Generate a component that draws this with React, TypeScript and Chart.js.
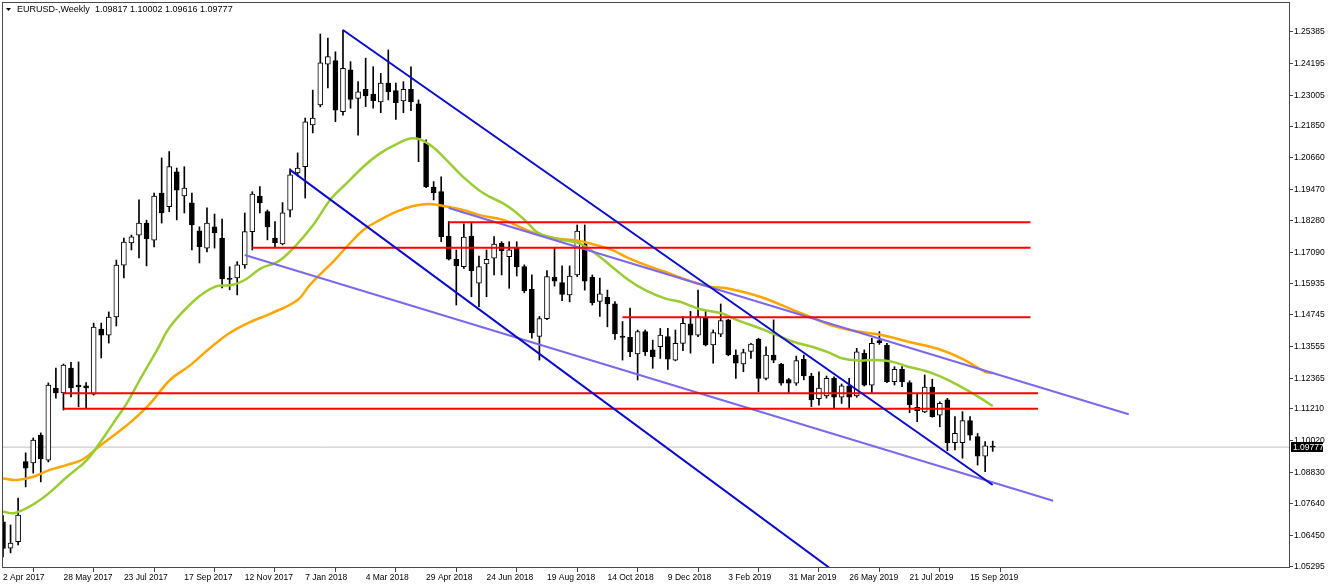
import React, { useEffect, useRef } from 'react';
import { Chart, registerables } from 'chart.js';

Chart.register(...registerables);

// ---- OHLC weekly bars, index 0 = week of 2 Apr 2017 ----
const opens = [
  1.0697, 1.0598, 1.0622, 1.0923, 1.0918, 1.1023, 1.0929, 1.1200, 1.1181, 1.1275,
  1.1211, 1.1208, 1.1177, 1.1421, 1.1399, 1.1467, 1.1662, 1.1745, 1.1775, 1.1820,
  1.1756, 1.1933, 1.1882, 1.2013, 1.1922, 1.1896, 1.1791, 1.1726, 1.1806, 1.1764,
  1.1612, 1.1614, 1.1663, 1.1788, 1.1922, 1.1863, 1.1764, 1.1742, 1.1869, 1.2009,
  1.2032, 1.2189, 1.2264, 1.2418, 1.2431, 1.2239, 1.2396, 1.2289, 1.2323, 1.2305,
  1.2276, 1.2346, 1.2318, 1.2279, 1.2323, 1.2268, 1.2120, 1.1955, 1.1938, 1.1771,
  1.1684, 1.1656, 1.1771, 1.1594, 1.1666, 1.1688, 1.1744, 1.1694, 1.1725, 1.1656,
  1.1571, 1.1394, 1.1461, 1.1616, 1.1596, 1.1550, 1.1625, 1.1741, 1.1616, 1.1525,
  1.1541, 1.1516, 1.1395, 1.1390, 1.1328, 1.1412, 1.1343, 1.1355, 1.1393, 1.1305,
  1.1368, 1.1441, 1.1399, 1.1462, 1.1362, 1.1402, 1.1456, 1.1324, 1.1290, 1.1337,
  1.1383, 1.1236, 1.1324, 1.1290, 1.1232, 1.1218, 1.1308, 1.1245, 1.1160, 1.1170,
  1.1236, 1.1165, 1.1208, 1.1170, 1.1330, 1.1211, 1.1378, 1.1361, 1.1224, 1.1270,
  1.1220, 1.1127, 1.1110, 1.1203, 1.1098, 1.1155, 1.0994, 1.0994, 1.1077, 1.1017,
  1.0944, 1.09817,
];
const highs = [
  1.0720, 1.0685, 1.0786, 1.0956, 1.1012, 1.1031, 1.1219, 1.1275, 1.1290, 1.1296,
  1.1298, 1.1220, 1.1444, 1.1444, 1.1486, 1.1681, 1.1764, 1.1775, 1.1907, 1.1831,
  1.1933, 1.2065, 1.2089, 1.2027, 1.2032, 1.1933, 1.1806, 1.1877, 1.1854, 1.1835,
  1.1656, 1.1675, 1.1858, 1.1938, 1.1957, 1.1869, 1.1826, 1.1897, 1.2024, 1.2084,
  1.2215, 1.2320, 1.2531, 1.2516, 1.2464, 1.2546, 1.2427, 1.2352, 1.2440, 1.2408,
  1.2383, 1.2471, 1.2346, 1.2352, 1.2408, 1.2283, 1.2133, 1.1976, 1.1994, 1.1826,
  1.1719, 1.1817, 1.1819, 1.1696, 1.1719, 1.1769, 1.1750, 1.1750, 1.1750, 1.1663,
  1.1625, 1.1469, 1.1641, 1.1725, 1.1659, 1.1659, 1.1813, 1.1813, 1.1625, 1.1613,
  1.1568, 1.1525, 1.1450, 1.1500, 1.1418, 1.1418, 1.1380, 1.1424, 1.1424, 1.1418,
  1.1468, 1.1488, 1.1568, 1.1488, 1.1418, 1.1516, 1.1458, 1.1343, 1.1346, 1.1368,
  1.1387, 1.1355, 1.1456, 1.1293, 1.1236, 1.1320, 1.1324, 1.1255, 1.1261, 1.1245,
  1.1242, 1.1215, 1.1236, 1.1349, 1.1343, 1.1387, 1.1412, 1.1368, 1.1280, 1.1280,
  1.1227, 1.1180, 1.1249, 1.1233, 1.1148, 1.1161, 1.1092, 1.1111, 1.1092, 1.1029,
  1.0998, 1.10002,
];
const lows = [
  1.0565, 1.0580, 1.0610, 1.0828, 1.0880, 1.0847, 1.0922, 1.1162, 1.1117, 1.1166,
  1.1129, 1.1125, 1.1173, 1.1313, 1.1369, 1.1433, 1.1614, 1.1719, 1.1689, 1.1659,
  1.1730, 1.1820, 1.1863, 1.1832, 1.1858, 1.1719, 1.1670, 1.1712, 1.1726, 1.1576,
  1.1569, 1.1550, 1.1650, 1.1719, 1.1858, 1.1757, 1.1731, 1.1738, 1.1843, 1.1997,
  1.1914, 1.2159, 1.2257, 1.2328, 1.2201, 1.2226, 1.2252, 1.2151, 1.2258, 1.2252,
  1.2235, 1.2283, 1.2210, 1.2235, 1.2243, 1.2051, 1.1953, 1.1907, 1.1750, 1.1681,
  1.1512, 1.1650, 1.1543, 1.1506, 1.1543, 1.1625, 1.1625, 1.1575, 1.1621, 1.1558,
  1.1387, 1.1305, 1.1457, 1.1583, 1.1528, 1.1524, 1.1619, 1.1568, 1.1512, 1.1469,
  1.1430, 1.1383, 1.1305, 1.1318, 1.1230, 1.1322, 1.1274, 1.1311, 1.1270, 1.1302,
  1.1340, 1.1331, 1.1393, 1.1358, 1.1293, 1.1393, 1.1321, 1.1236, 1.1261, 1.1311,
  1.1186, 1.1230, 1.1295, 1.1211, 1.1180, 1.1210, 1.1230, 1.1130, 1.1135, 1.1162,
  1.1124, 1.1142, 1.1124, 1.1165, 1.1207, 1.1183, 1.1364, 1.1220, 1.1211, 1.1205,
  1.1107, 1.1073, 1.1107, 1.1090, 1.1054, 1.0964, 1.0967, 1.0936, 1.1004, 1.0910,
  1.0885, 1.09616,
];
const closes = [
  1.0597, 1.0617, 1.0722, 1.0898, 1.1004, 1.0933, 1.1211, 1.1181, 1.1286, 1.1200,
  1.1204, 1.1200, 1.1429, 1.1399, 1.1467, 1.1662, 1.1749, 1.1768, 1.1820, 1.1760,
  1.1922, 1.1858, 1.2032, 1.1944, 1.1952, 1.1813, 1.1731, 1.1820, 1.1783, 1.1610,
  1.1608, 1.1663, 1.1788, 1.1929, 1.1896, 1.1806, 1.1746, 1.1859, 1.2001, 1.2027,
  1.2201, 1.2215, 1.2423, 1.2446, 1.2245, 1.2402, 1.2285, 1.2314, 1.2298, 1.2280,
  1.2346, 1.2314, 1.2273, 1.2323, 1.2276, 1.2139, 1.1957, 1.1934, 1.1769, 1.1684,
  1.1659, 1.1767, 1.1641, 1.1656, 1.1684, 1.1741, 1.1716, 1.1719, 1.1656, 1.1566,
  1.1408, 1.1461, 1.1619, 1.1602, 1.1552, 1.1621, 1.1790, 1.1602, 1.1521, 1.1554,
  1.1516, 1.1403, 1.1390, 1.1336, 1.1412, 1.1336, 1.1318, 1.1399, 1.1308, 1.1368,
  1.1443, 1.1399, 1.1468, 1.1362, 1.1408, 1.1453, 1.1324, 1.1293, 1.1333, 1.1365,
  1.1236, 1.1324, 1.1305, 1.1218, 1.1218, 1.1303, 1.1245, 1.1155, 1.1200, 1.1236,
  1.1165, 1.1208, 1.1165, 1.1336, 1.1211, 1.1368, 1.1370, 1.1224, 1.1270, 1.1224,
  1.1136, 1.1115, 1.1203, 1.1092, 1.1142, 1.0994, 1.1029, 1.1077, 1.1023, 1.0944,
  1.0982, 1.09777,
];

// ---- Moving averages (bar index, price) ----
const greenMaIdx = [0, 1.6, 4.9, 8.5, 11.1, 12.8, 14.6, 16.4, 18.1, 20.4, 22.1, 25.4, 28.1, 30.3, 32.0, 34.2, 36.4, 38.6, 40.9, 43.5, 45.5, 47.7, 49.9, 52.1, 54.3, 56.5, 58.7, 60.9, 63.6, 66.2, 67.8, 69.5, 70.9, 73.9, 76.1, 78.4, 80.6, 82.8, 85.0, 87.6, 89.6, 92.3, 95.1, 97.1, 100.2, 102.4, 104.6, 107.3, 109.5, 111.0, 113.2, 115.4, 117.6, 119.8, 122.0, 124.2, 126.4, 128.7, 131];
const greenMaVal = [1.0735, 1.0730, 1.0779, 1.0866, 1.0929, 1.0993, 1.1068, 1.1143, 1.1230, 1.1343, 1.1430, 1.1531, 1.1581, 1.1587, 1.1606, 1.1651, 1.1675, 1.1731, 1.1807, 1.1914, 1.1970, 1.2032, 1.2082, 1.2117, 1.2139, 1.2114, 1.2057, 1.1994, 1.1932, 1.1894, 1.1863, 1.1819, 1.1782, 1.1757, 1.1746, 1.1706, 1.1656, 1.1606, 1.1568, 1.1537, 1.1524, 1.1496, 1.1481, 1.1456, 1.1424, 1.1399, 1.1374, 1.1353, 1.1331, 1.1312, 1.1303, 1.1305, 1.1299, 1.1280, 1.1265, 1.1242, 1.1211, 1.1174, 1.1132];
const orangeMaIdx = [0, 1.8, 4.0, 6.2, 8.4, 10.6, 12.8, 15.0, 17.2, 19.5, 22.1, 24.8, 27.4, 30.0, 32.7, 35.3, 39.0, 40.6, 43.9, 45.5, 47.7, 49.9, 52.1, 54.3, 56.5, 58.7, 60.9, 63.1, 66.2, 67.8, 70.4, 73.1, 76.1, 78.4, 80.6, 82.8, 85.0, 87.6, 90.5, 93.6, 95.8, 100.2, 104.6, 106.8, 109.5, 113.2, 116.3, 119.8, 124.2, 127.3, 130.0, 131];
const orangeMaVal = [1.0860, 1.0854, 1.0866, 1.0892, 1.0910, 1.0932, 1.0982, 1.1029, 1.1079, 1.1142, 1.1230, 1.1286, 1.1350, 1.1407, 1.1448, 1.1478, 1.1531, 1.1587, 1.1681, 1.1731, 1.1794, 1.1832, 1.1863, 1.1884, 1.1892, 1.1882, 1.1869, 1.1850, 1.1832, 1.1813, 1.1782, 1.1763, 1.1754, 1.1738, 1.1719, 1.1688, 1.1663, 1.1637, 1.1606, 1.1581, 1.1575, 1.1543, 1.1493, 1.1468, 1.1437, 1.1412, 1.1399, 1.1374, 1.1343, 1.1305, 1.1261, 1.1256];

// ---- Drawn objects: [startIdx, endIdx, price] horizontal levels ----
const redLevelStart = [59, 33, 82, 8, 8];
const redLevelEnd = [136, 136, 136, 137, 137];
const redLevelPrice = [1.1823, 1.1727, 1.1466, 1.1180, 1.1122];
// trend lines: [x1, y1, x2, y2]
const blueTrend1 = [45, 1.2546, 131, 1.0835];
const blueTrend2 = [38, 1.2020, 112, 1.0469];
const purpleTrend1 = [59, 1.1877, 149, 1.1101];
const purpleTrend2 = [32, 1.1700, 139, 1.0776];

// ---- Axes ----
const xTickIdx = [0, 8, 16, 24, 32, 40, 48, 56, 64, 72, 80, 88, 96, 104, 112, 120, 128];
const xTickLabels = ['2 Apr 2017', '28 May 2017', '23 Jul 2017', '17 Sep 2017', '12 Nov 2017', '7 Jan 2018', '4 Mar 2018', '29 Apr 2018', '24 Jun 2018', '19 Aug 2018', '14 Oct 2018', '9 Dec 2018', '3 Feb 2019', '31 Mar 2019', '26 May 2019', '21 Jul 2019', '15 Sep 2019'];
const yTickValues = [1.25385, 1.24195, 1.23005, 1.2185, 1.2066, 1.1947, 1.1828, 1.1709, 1.15935, 1.14745, 1.13555, 1.12365, 1.1121, 1.1002, 1.0883, 1.0764, 1.0645, 1.05295];

const symbolTitle = 'EURUSD-,Weekly';
const lastBarText = '1.09817 1.10002 1.09616 1.09777';
const currentPrice = 1.09777;

const X_MIN = -0.1324;
const X_MAX = 170.35;
const Y_MIN = 1.05231;
const Y_MAX = 1.26513;
const AXIS_FONT = { family: 'Liberation Sans', size: 8.5 };

export default function App() {
  const ref = useRef<HTMLCanvasElement | null>(null);

  useEffect(() => {
    if (!ref.current) return;
    const idx = opens.map((_, i) => i);

    const seg = (t: number[]) => [{ x: t[0], y: t[1] }, { x: t[2], y: t[3] }];
    const lineDs = (data: any[], color: string, order: number, width = 2, tension = 0) => ({
      type: 'line' as const,
      data,
      borderColor: color,
      borderWidth: width,
      pointRadius: 0,
      tension,
      fill: false,
      order,
    });

    const redDatasets = redLevelPrice.map((p, k) =>
      lineDs([{ x: redLevelStart[k], y: p }, { x: redLevelEnd[k], y: p }], '#ff0000', 2)
    );

    const decor = {
      id: 'decor',
      afterDraw(chart: any) {
        const { ctx, chartArea: a, scales } = chart;
        ctx.save();
        // frame
        ctx.strokeStyle = '#4a4a4a';
        ctx.lineWidth = 1;
        ctx.strokeRect(a.left + 0.5, a.top + 0.5, a.right - a.left - 1, a.bottom - a.top - 1);
        // header
        ctx.fillStyle = '#000';
        ctx.beginPath();
        ctx.moveTo(6, 8);
        ctx.lineTo(11, 8);
        ctx.lineTo(8.5, 11);
        ctx.closePath();
        ctx.fill();
        ctx.font = '9px "Liberation Sans"';
        ctx.textBaseline = 'middle';
        ctx.textAlign = 'left';
        ctx.fillText(symbolTitle, 17, 10);
        ctx.fillText(lastBarText, 95, 10);
        // current price box
        const y = Math.round(scales.y.getPixelForValue(currentPrice));
        ctx.fillStyle = '#000';
        ctx.fillRect(a.right + 1, y - 5, 32, 10);
        ctx.fillStyle = '#fff';
        ctx.font = '8.5px "Liberation Sans"';
        ctx.fillText(currentPrice.toFixed(5), a.right + 3, y + 0.5);
        ctx.restore();
      },
    };

    const chart = new Chart(ref.current, {
      type: 'bar',
      data: {
        datasets: [
          ...redDatasets,
          lineDs(seg(blueTrend1), '#0a0acd', 1),
          lineDs(seg(blueTrend2), '#0a0acd', 1),
          lineDs(seg(purpleTrend1), '#7b68ee', 3),
          lineDs(seg(purpleTrend2), '#7b68ee', 3),
          lineDs(greenMaIdx.map((x, k) => ({ x, y: greenMaVal[k] })), '#9acd32', 5, 2.5, 0.4),
          lineDs(orangeMaIdx.map((x, k) => ({ x, y: orangeMaVal[k] })), '#ffa500', 6, 2.5, 0.4),
          {
            type: 'bar' as const,
            data: idx.map((i) => ({ x: i, y: [opens[i], closes[i]] })),
            backgroundColor: idx.map((i) => (closes[i] >= opens[i] ? '#ffffff' : '#000000')),
            borderColor: '#000000',
            borderWidth: 1,
            borderSkipped: false,
            barThickness: 5,
            grouped: false,
            order: 19,
          },
          {
            type: 'bar' as const,
            data: idx.map((i) => ({ x: i, y: [lows[i], highs[i]] })),
            backgroundColor: '#000000',
            borderWidth: 0,
            barThickness: 1,
            grouped: false,
            order: 20,
          },
          lineDs([{ x: X_MIN - 1, y: currentPrice }, { x: X_MAX + 1, y: currentPrice }], '#c0c0c0', 30, 1),
        ] as any,
      },
      options: {
        responsive: false,
        devicePixelRatio: 1,
        animation: false,
        events: [],
        layout: { padding: { left: 2, top: 2, right: 0, bottom: 0 } },
        plugins: { legend: { display: false }, tooltip: { enabled: false } },
        scales: {
          x: {
            type: 'linear',
            min: X_MIN,
            max: X_MAX,
            offset: false,
            border: { display: false },
            grid: { drawOnChartArea: false, drawTicks: true, tickLength: 4, color: '#444' },
            ticks: {
              autoSkip: false,
              maxRotation: 0,
              minRotation: 0,
              align: 'start',
              padding: 1,
              color: '#000',
              font: AXIS_FONT,
              callback: (v: any) => {
                const k = xTickIdx.indexOf(Number(v));
                return k >= 0 ? xTickLabels[k] : '';
              },
            },
            afterBuildTicks: (s: any) => {
              s.ticks = xTickIdx.map((v) => ({ value: v }));
            },
            afterFit: (s: any) => {
              s.height = 19;
              s.paddingLeft = 0;
              s.paddingRight = 0;
            },
          },
          y: {
            type: 'linear',
            position: 'right',
            min: Y_MIN,
            max: Y_MAX,
            beginAtZero: false,
            border: { display: false },
            grid: { drawOnChartArea: false, drawTicks: true, tickLength: 3, color: '#444' },
            ticks: {
              autoSkip: false,
              padding: 1,
              color: '#000',
              font: AXIS_FONT,
              callback: (v: any) => Number(v).toFixed(5),
            },
            afterBuildTicks: (s: any) => {
              s.ticks = yTickValues.map((v) => ({ value: v }));
            },
            afterFit: (s: any) => {
              s.width = 42;
              s.paddingTop = 0;
              s.paddingBottom = 0;
            },
          },
        },
      } as any,
      plugins: [decor],
    });
    return () => chart.destroy();
  }, []);

  return (
    <div style={{ position: 'fixed', left: 0, top: 0, width: 1332, height: 587, background: '#fff' }}>
      <canvas ref={ref} width={1332} height={587} style={{ display: 'block' }} />
    </div>
  );
}
